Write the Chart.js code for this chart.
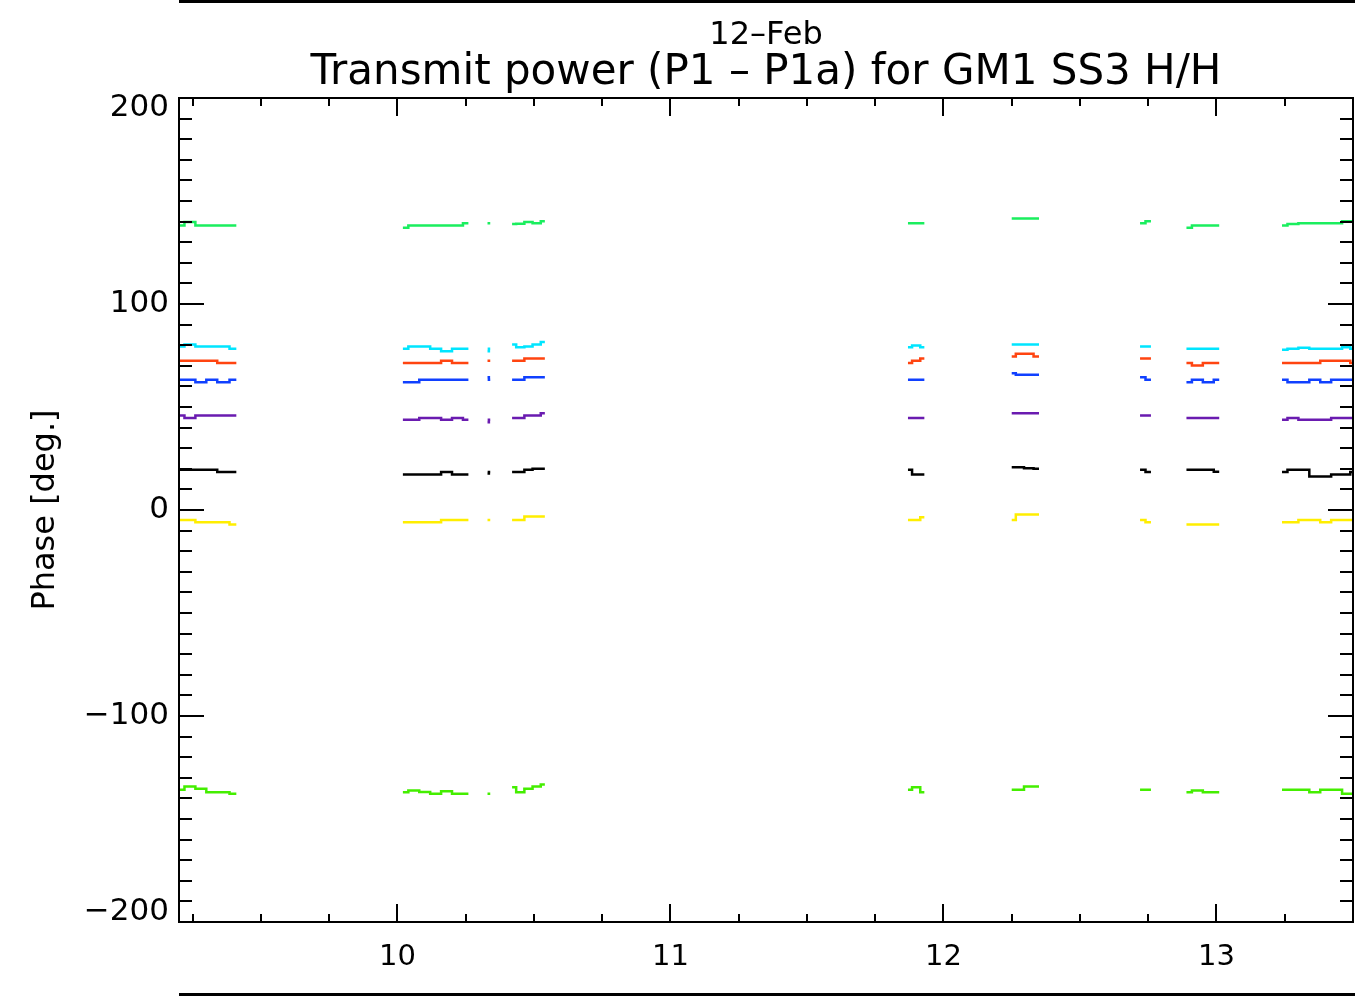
<!DOCTYPE html>
<html lang="en">
  <head>
    <meta charset="UTF-8" />
    <title>Transmit power (P1 - P1a) for GM1 SS3 H/H</title>
    <script src="https://cdn.jsdelivr.net/npm/chart.js"></script>
    <style>
      body {
        margin: 0;
        background: #fff;
      }
      canvas {
        display: block;
      }
    </style>
  </head>
  <body>
    <canvas id="phaseChart" width="1366" height="1000"></canvas>

    <script>
      // hour of day (12-Feb); gap entries between passes have null values
      const hours = [
        9.2, 9.24, 9.28, 9.32, 9.36, 9.41, 9.7,
        10.02, 10.06, 10.1, 10.14, 10.18, 10.22, 10.26, 10.3,
        10.33, 10.34, 10.38,
        10.42, 10.45, 10.48, 10.51, 10.54, 11.2,
        11.87, 11.9, 11.93, 12.1,
        12.25, 12.28, 12.31, 12.35, 12.5,
        12.72, 12.76, 12.8,
        12.89, 12.93, 12.97, 13.01, 13.1,
        13.24, 13.28, 13.32, 13.36, 13.4, 13.44, 13.48, 13.5,
      ];

      // phase [deg.] per channel
      const greenHigh = [
        138.1, 139.8, 138.1, 138.1, 138.1, 138.1, null,
        137.0, 138.1, 138.1, 138.1, 138.1, 138.1, 139.2, null,
        139.2, 139.2, null,
        138.8, 138.9, 139.8, 139.2, 140.2, null,
        139.2, 139.2, 139.2, null,
        141.5, 141.5, 141.5, 141.5, null,
        139.2, 140.2, null,
        137.0, 138.1, 138.1, 138.1, null,
        138.1, 138.8, 139.2, 139.2, 139.2, 139.2, 140.2, 140.2,
      ];
      const cyan = [
        79.4, 80.3, 79.4, 79.4, 79.4, 78.3, null,
        78.3, 79.4, 79.4, 78.3, 77.1, 78.3, 78.3, null,
        77.1, 78.3, null,
        80.3, 79.0, 79.4, 80.3, 81.5, null,
        79.0, 79.8, 79.0, null,
        80.3, 80.3, 80.3, 80.3, null,
        79.4, 79.4, null,
        78.3, 78.3, 78.3, 78.3, null,
        77.8, 78.3, 78.8, 78.3, 78.3, 78.3, 79.0, 78.3,
      ];
      const red = [
        72.4, 72.4, 72.4, 72.4, 71.3, 71.3, null,
        71.3, 71.3, 71.3, 71.3, 72.4, 71.3, 71.3, null,
        72.4, 72.4, null,
        72.4, 72.4, 73.5, 73.5, 73.5, null,
        71.3, 72.4, 73.5, null,
        74.5, 75.8, 75.8, 74.5, null,
        73.5, 73.5, null,
        71.3, 70.1, 71.3, 71.3, null,
        71.3, 71.3, 71.3, 71.3, 72.4, 72.4, 72.4, 71.3,
      ];
      const blue = [
        63.2, 63.2, 62.0, 63.2, 62.0, 63.2, null,
        62.0, 62.0, 63.2, 63.2, 63.2, 63.2, 63.2, null,
        64.5, 63.2, null,
        63.2, 63.2, 64.5, 64.5, 64.5, null,
        63.2, 63.2, 63.2, null,
        66.4, 65.6, 65.6, 65.6, null,
        64.5, 63.2, null,
        62.0, 63.2, 62.0, 63.2, null,
        63.2, 62.0, 62.0, 63.2, 62.0, 63.2, 63.2, 63.2,
      ];
      const purple = [
        45.9, 44.7, 45.9, 45.9, 45.9, 45.9, null,
        43.8, 43.8, 44.7, 44.7, 43.8, 44.7, 43.8, null,
        42.6, 43.8, null,
        44.7, 44.7, 45.9, 45.9, 47.0, null,
        44.7, 44.7, 44.7, null,
        47.0, 47.0, 47.0, 47.0, null,
        45.9, 45.9, null,
        44.7, 44.7, 44.7, 44.7, null,
        43.8, 44.7, 43.8, 43.8, 43.8, 44.7, 44.7, 44.7,
      ];
      const black = [
        19.5, 19.5, 19.5, 19.5, 18.4, 18.4, null,
        17.2, 17.2, 17.2, 17.2, 18.4, 17.2, 17.2, null,
        17.7, 18.4, null,
        18.4, 18.4, 19.5, 20.0, 20.0, null,
        19.5, 17.2, 17.2, null,
        20.8, 20.8, 20.3, 20.0, null,
        19.5, 18.4, null,
        19.5, 19.5, 19.5, 18.6, null,
        18.4, 19.5, 19.5, 16.3, 16.3, 17.2, 17.2, 18.4,
      ];
      const yellow = [
        -4.8, -4.8, -5.9, -5.9, -5.9, -7.0, null,
        -5.9, -5.9, -5.9, -5.9, -4.8, -4.8, -4.8, null,
        -4.8, -4.8, null,
        -4.8, -4.8, -3.2, -3.2, -3.2, null,
        -4.8, -4.8, -3.5, null,
        -4.8, -2.2, -2.2, -2.2, null,
        -4.8, -5.9, null,
        -7.0, -7.0, -7.0, -7.0, null,
        -5.9, -5.9, -4.8, -4.8, -5.9, -4.8, -4.8, -4.8,
      ];
      const greenLow = [
        -135.8, -134.2, -135.3, -137.0, -137.0, -137.8, null,
        -137.0, -136.2, -136.9, -137.8, -136.5, -137.8, -137.8, null,
        -137.8, -137.8, null,
        -134.6, -137.0, -135.3, -134.2, -133.3, null,
        -135.8, -134.6, -137.0, null,
        -135.8, -135.8, -134.2, -134.2, null,
        -135.8, -135.8, null,
        -137.0, -136.2, -137.0, -137.0, null,
        -135.8, -135.8, -135.8, -137.0, -135.8, -135.8, -137.8, -137.8,
      ];

      const xTicks = [10, 11, 12, 13];
      const yTicks = [-200, -100, 0, 100, 200];

      const series = [
        { values: greenHigh, color: "#1aee5e" },
        { values: cyan, color: "#00e5ff" },
        { values: red, color: "#ff4410" },
        { values: blue, color: "#1040ff" },
        { values: purple, color: "#6a1bb0" },
        { values: black, color: "#000000" },
        { values: yellow, color: "#ffee00" },
        { values: greenLow, color: "#44ee00" },
      ];

      const font = "'DejaVu Sans', sans-serif";

      // IDL-style box: inward ticks on all four sides plus page rules
      const idlFrame = {
        id: "idlFrame",
        afterLayout(chart) {
          // keep the end labels of the y axis inside the box, like IDL does
          const items = chart.scales.y.getLabelItems();
          if (items.length) {
            items[0].options.translation[1] -= 10;
            items[items.length - 1].options.translation[1] += 10;
          }
        },
        afterDatasetsDraw(chart) {
          const { ctx, chartArea: a, scales } = chart;
          const x = scales.x;
          const y = scales.y;
          ctx.save();
          ctx.strokeStyle = "#000";
          ctx.fillStyle = "#000";
          ctx.lineWidth = 2;
          ctx.strokeRect(a.left, a.top, a.right - a.left, a.bottom - a.top);
          ctx.beginPath();
          for (let i = Math.ceil(x.min * 4); i <= Math.floor(x.max * 4); i++) {
            const px = Math.round(x.getPixelForValue(i / 4));
            const len = i % 4 === 0 ? 18 : 8;
            ctx.moveTo(px, a.bottom);
            ctx.lineTo(px, a.bottom - len);
            ctx.moveTo(px, a.top);
            ctx.lineTo(px, a.top + len);
          }
          for (let v = y.min; v <= y.max; v += 10) {
            const py = Math.round(y.getPixelForValue(v));
            const len = v % 100 === 0 ? 25 : 13;
            ctx.moveTo(a.left, py);
            ctx.lineTo(a.left + len, py);
            ctx.moveTo(a.right, py);
            ctx.lineTo(a.right - len, py);
          }
          ctx.stroke();
          ctx.fillRect(a.left, 0, a.right - a.left + 2, 3);
          ctx.fillRect(a.left, 993, a.right - a.left + 2, 3);
          ctx.restore();
        },
      };

      const ctx = document.getElementById("phaseChart").getContext("2d");

      const phaseChart = new Chart(ctx, {
        type: "line",
        data: {
          datasets: series.map((s) => ({
            data: hours.map((h, i) => ({ x: h, y: s.values[i] })),
            borderColor: s.color,
            borderWidth: 2.5,
            pointRadius: 0,
            stepped: "middle",
            spanGaps: false,
          })),
        },
        options: {
          responsive: false,
          animation: false,
          layout: { padding: { left: 0, right: 13, top: 0, bottom: 0 } },
          plugins: {
            legend: { display: false },
            tooltip: { enabled: false },
            title: {
              display: true,
              text: "12\u2013Feb",
              fullSize: false,
              color: "#000",
              font: { family: font, size: 32, weight: "normal", lineHeight: 1 },
              padding: { top: 20, bottom: 0 },
            },
            subtitle: {
              display: true,
              text: "Transmit power (P1 \u2013 P1a) for GM1 SS3 H/H",
              fullSize: false,
              color: "#000",
              font: { family: font, size: 42, weight: "normal", lineHeight: 1 },
              padding: { top: 0, bottom: 4 },
            },
          },
          scales: {
            x: {
              type: "linear",
              min: 9.2,
              max: 13.5,
              grid: { display: false, drawTicks: false },
              border: { display: false },
              afterBuildTicks: (scale) => {
                scale.ticks = xTicks.map((v) => ({ value: v }));
              },
              afterFit: (scale) => {
                scale.height = 78;
              },
              ticks: {
                color: "#000",
                padding: 18,
                maxRotation: 0,
                font: { family: font, size: 29 },
              },
            },
            y: {
              type: "linear",
              min: -200,
              max: 200,
              grid: { display: false, drawTicks: false },
              border: { display: false },
              afterBuildTicks: (scale) => {
                scale.ticks = yTicks.map((v) => ({ value: v }));
              },
              afterFit: (scale) => {
                scale.width = 179;
              },
              ticks: {
                color: "#000",
                padding: 10,
                font: { family: font, size: 31 },
                callback: (v) => (v < 0 ? "\u2212" + Math.abs(v) : String(v)),
              },
              title: {
                display: true,
                text: "Phase [deg.]",
                color: "#000",
                font: { family: font, size: 32 },
                padding: { top: 26, bottom: 0 },
              },
            },
          },
        },
        plugins: [idlFrame],
      });
    </script>
  </body>
</html>
